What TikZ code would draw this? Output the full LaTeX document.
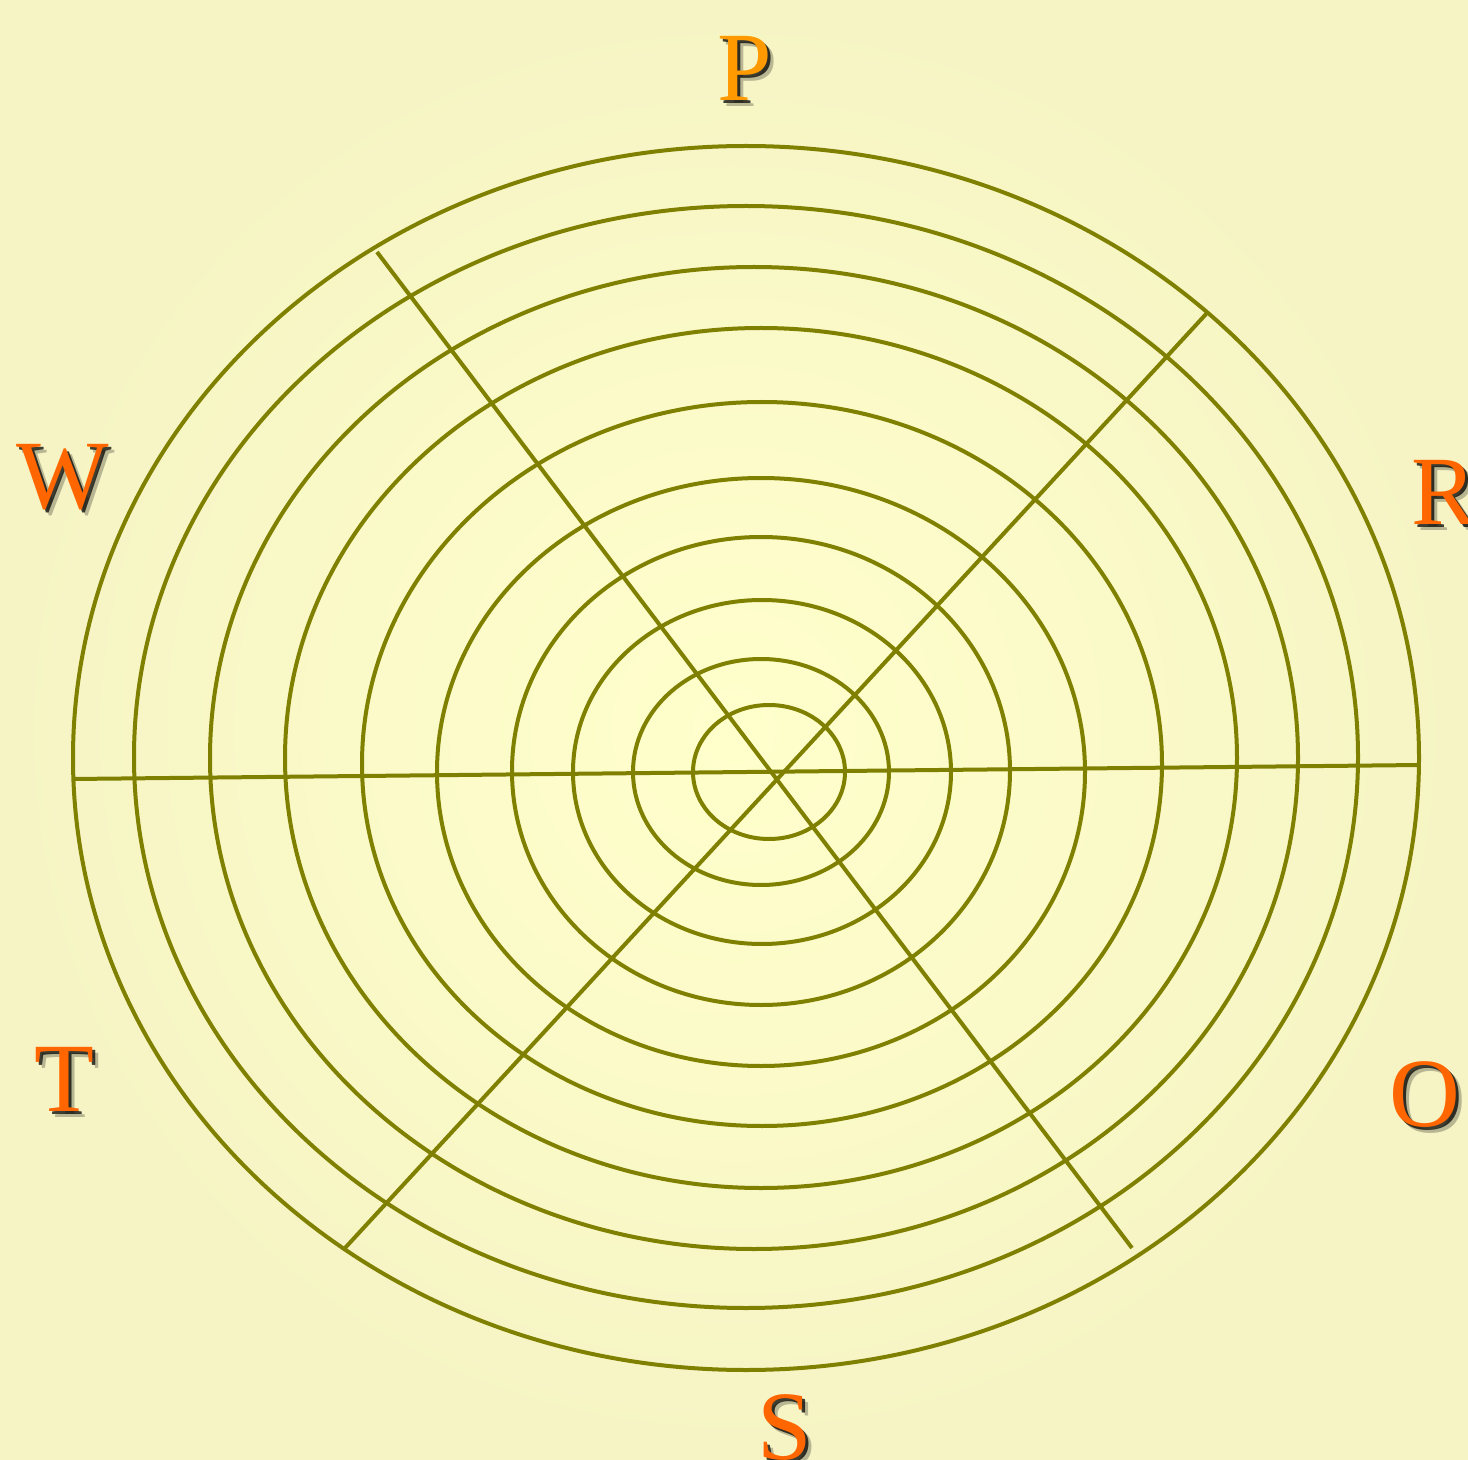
\documentclass[tikz,border=0pt]{standalone}
\usepackage{fontspec}
\setmainfont{Liberation Serif}
\usetikzlibrary{calc}
\definecolor{paper}{HTML}{FFFFCC}
\definecolor{paperedge}{HTML}{F6F4C4}
\definecolor{olivering}{HTML}{808000}
\definecolor{letterP}{HTML}{FF9900}
\definecolor{letterRed}{HTML}{FF6600}

\begin{document}
\begin{tikzpicture}[
    x=0.5pt, y=-0.5pt,
    ring/.style={draw=olivering, line width=2pt},
    spoke/.style={draw=olivering, line width=2pt},
    letterlabel/.style={font=\fontsize{49}{49}\selectfont, inner sep=0pt}
]

\useasboundingbox (0,0) rectangle (1468,1460);
\clip (0,0) rectangle (1468,1460);
\shade[inner color=paper, outer color=paperedge] (0,0) rectangle (1468,1460);

% rings, outer to inner
\foreach \cx/\cy/\rx/\ry in {746/758/673/612, 746/757/612/551, 754/758/544/491,
    761/758/476/430, 762/764/400/362, 761/772/324/294, 761/771/249/234,
    762/772/189/172, 761/772/128/113, 769/772/76/67}
    \draw[ring] (\cx,\cy) ellipse [x radius=\rx, y radius=\ry];

% spoke ends
\coordinate (west) at (73,779);
\coordinate (east) at (1420,765);
\coordinate (nw) at (377,252);
\coordinate (se) at (1132,1248);
\coordinate (ne) at (1207,313);
\coordinate (sw) at (345,1248);

\draw[spoke] (west) -- (east);
\draw[spoke] (nw) -- (se);
\draw[spoke] (ne) -- (sw);

% letters with drop shadow
\foreach \t/\lx/\ly/\col in {P/745/68/letterP, W/63/477/letterRed, R/1444/492/letterRed,
    T/64/1079/letterRed, O/1425/1095/letterRed, S/785/1428/letterRed} {
    \node[letterlabel, text=black, opacity=0.25] at (\lx+6,\ly+6) {\t};
    \node[letterlabel, text=black, opacity=0.75] at (\lx+3,\ly+3) {\t};
    \node[letterlabel, text=\col] (lbl\t) at (\lx,\ly) {\t};
}

\end{tikzpicture}
\end{document}
